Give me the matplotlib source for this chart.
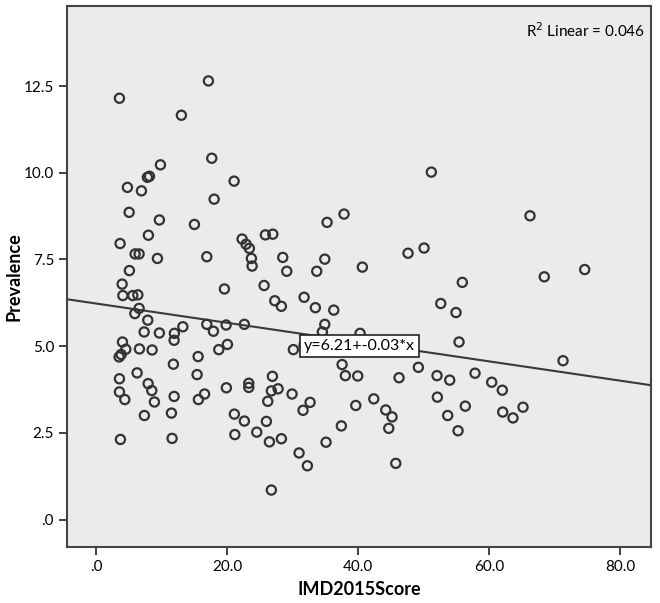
import matplotlib.pyplot as plt
import numpy as np

plt.rcParams['font.family'] = ['Lato', 'DejaVu Sans']

# IMD2015 score per area (x) and prevalence (y)
imd_score = [
    3.56, 13.02, 17.15, 9.82, 7.83, 8.14, 4.78, 6.92, 5.04, 9.66,
    15.01, 7.98, 3.66, 5.95, 6.56, 9.36, 16.90, 5.08, 3.97, 4.08,
    5.60, 6.37, 6.56, 5.91, 7.89, 7.33, 9.66, 11.95, 11.91, 13.24,
    4.02, 4.53, 3.82, 3.51, 6.61, 8.55, 11.80, 15.57, 6.26, 3.56,
    15.42, 7.94, 8.50, 3.56, 4.38, 8.90, 11.91, 15.62, 16.56, 7.37,
    11.50, 3.71, 11.60, 17.66, 21.07, 18.02, 37.86, 35.27, 25.85, 26.98,
    22.29, 22.90, 23.40, 23.71, 23.82, 28.50, 34.92, 29.11, 33.69, 19.59,
    25.65, 27.28, 28.29, 31.76, 33.48, 36.29, 34.92, 16.90, 17.91, 19.85,
    22.64, 20.05, 18.73, 30.12, 31.76, 34.55, 37.56, 38.06, 26.92, 23.31,
    23.31, 19.89, 26.76, 27.79, 29.92, 26.21, 32.67, 31.60, 21.11, 22.64,
    26.00, 21.18, 24.53, 26.46, 28.29, 35.11, 37.45, 30.99, 32.26, 26.76,
    51.19, 66.26, 47.63, 50.08, 40.66, 55.92, 68.44, 74.61, 52.63, 54.96,
    55.42, 40.31, 71.30, 39.95, 46.26, 49.21, 52.06, 54.00, 57.86, 60.41,
    62.03, 42.40, 39.65, 44.23, 45.19, 44.69, 52.11, 56.38, 53.69, 55.27,
    62.09, 63.66, 65.19, 45.76,
]
prevalence = [
    12.15, 11.66, 12.65, 10.23, 9.87, 9.90, 9.58, 9.48, 8.86, 8.64,
    8.51, 8.20, 7.96, 7.66, 7.66, 7.53, 7.58, 7.18, 6.79, 6.46,
    6.46, 6.48, 6.09, 5.94, 5.75, 5.41, 5.38, 5.37, 5.17, 5.56,
    5.12, 4.91, 4.76, 4.69, 4.92, 4.89, 4.48, 4.70, 4.23, 4.06,
    4.18, 3.92, 3.72, 3.68, 3.46, 3.39, 3.55, 3.46, 3.62, 3.00,
    3.07, 2.31, 2.34, 10.42, 9.76, 9.24, 8.81, 8.57, 8.21, 8.23,
    8.09, 7.94, 7.82, 7.53, 7.31, 7.56, 7.51, 7.16, 7.16, 6.65,
    6.75, 6.31, 6.15, 6.41, 6.11, 6.04, 5.63, 5.63, 5.43, 5.61,
    5.63, 5.05, 4.90, 4.90, 5.03, 5.41, 4.47, 4.15, 4.13, 3.93,
    3.81, 3.80, 3.71, 3.77, 3.62, 3.41, 3.38, 3.15, 3.04, 2.84,
    2.83, 2.45, 2.52, 2.24, 2.33, 2.23, 2.70, 1.92, 1.55, 0.85,
    10.02, 8.76, 7.68, 7.83, 7.28, 6.84, 7.00, 7.21, 6.23, 5.97,
    5.12, 5.37, 4.58, 4.14, 4.09, 4.39, 4.15, 4.02, 4.22, 3.96,
    3.73, 3.48, 3.29, 3.16, 2.96, 2.63, 3.53, 3.27, 3.00, 2.56,
    3.10, 2.93, 3.24, 1.62,
]

# fit line as drawn (label rounds it)
fit_intercept = 6.23
fit_slope = -0.0278
fit_label = 'y=6.21+-0.03*x'
r2_label = 'R$^2$ Linear = 0.046'

x_ticks = [0, 20, 40, 60, 80]
x_tick_labels = ['.0', '20.0', '40.0', '60.0', '80.0']
y_ticks = [0, 2.5, 5, 7.5, 10, 12.5]
y_tick_labels = ['.0', '2.5', '5.0', '7.5', '10.0', '12.5']

fig = plt.figure(figsize=(6.6, 6.03), dpi=100)
ax = fig.add_axes([0.102, 0.093, 0.884, 0.897])
ax.set_facecolor('#ebebeb')

ax.scatter(imd_score, prevalence, s=44, facecolors='none', edgecolors='#333333',
           linewidths=1.6, zorder=3)

xlim = (-4.4, 84.7)
xs = np.array(xlim)
ax.plot(xs, fit_intercept + fit_slope * xs, color='#3a3a3a', lw=1.5, zorder=2)

ax.text(40.2, 5.0, fit_label, ha='center', va='center', fontsize=11.5, zorder=4,
        bbox=dict(facecolor='white', edgecolor='#222222', boxstyle='square,pad=0.25', lw=1.2))
ax.text(0.99, 0.955, r2_label, transform=ax.transAxes, ha='right', va='center', fontsize=11)

ax.set_xlim(*xlim)
ax.set_ylim(-0.79, 14.81)
ax.set_xticks(x_ticks)
ax.set_xticklabels(x_tick_labels)
ax.set_yticks(y_ticks)
ax.set_yticklabels(y_tick_labels)
ax.tick_params(direction='out', length=6, width=1.3, labelsize=11, color='#333333')

for sp in ax.spines.values():
    sp.set_linewidth(1.5)
    sp.set_color('#444444')

ax.set_xlabel('IMD2015Score', fontsize=13, fontweight='bold', labelpad=5)
ax.set_ylabel('Prevalence', fontsize=13, fontweight='bold', labelpad=1)

fig.savefig('out.png', dpi=100)
